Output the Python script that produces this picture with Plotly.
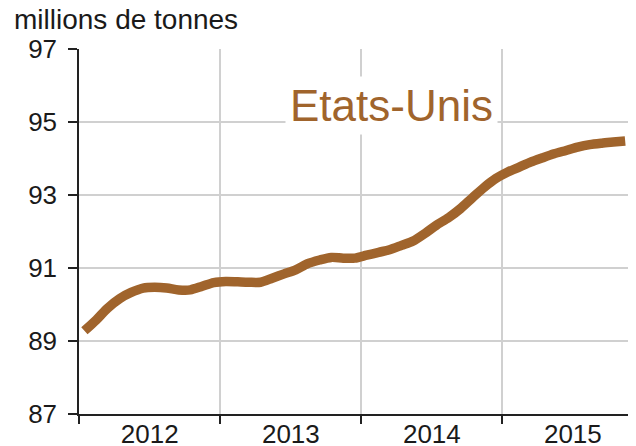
import plotly.graph_objects as go
import pandas as pd

# Monthly data, Jan 2012 - Nov 2015 (millions de tonnes)
values = [
    89.28, 89.58, 89.90, 90.16, 90.33, 90.45, 90.47, 90.45, 90.40, 90.40, 90.50, 90.60,
    90.63, 90.62, 90.61, 90.61, 90.72, 90.84, 90.95, 91.12, 91.22, 91.29, 91.27, 91.27,
    91.35, 91.43, 91.50, 91.62, 91.74, 91.95, 92.18, 92.38, 92.63, 92.92, 93.21, 93.45,
    93.63, 93.77, 93.90, 94.02, 94.13, 94.22, 94.31, 94.38, 94.42, 94.45, 94.48,
]
y_ticks = [87, 89, 91, 93, 95, 97]
series_name = "Etats-Unis"
unit_label = "millions de tonnes"

months = pd.date_range("2012-01-01", periods=len(values), freq="MS") + pd.Timedelta(days=14)

LINE = "#A0642C"
FONT = "Liberation Sans, Arial, sans-serif"

fig = go.Figure()
fig.add_trace(go.Scatter(
    x=months, y=values, mode="lines",
    line=dict(color=LINE, width=9.5, shape="spline", smoothing=0.8),
    hoverinfo="skip", showlegend=False,
))

# page body has an 8px default margin: compensate so the plot area sits at
# x 79..636, y 49..414 in the window
fig.update_layout(
    width=636, height=446,
    margin=dict(l=71, r=8, t=41, b=40, autoexpand=False),
    paper_bgcolor="white", plot_bgcolor="white",
    font=dict(family=FONT, color="#1a1a1a", size=25),
    showlegend=False,
)
fig.update_xaxes(
    type="date",
    range=["2012-01-01", "2015-12-13"],
    dtick="M12", tick0="2012-01-01", tickformat="%Y",
    ticklabelmode="period",
    ticks="outside", ticklen=8, tickwidth=1.5, tickcolor="#222",
    showline=True, linecolor="#222", linewidth=1.5,
    showgrid=True, gridcolor="#d0d0d0", gridwidth=1.5,
    tickfont=dict(size=26, family=FONT, color="#1a1a1a"),
    ticklabelstandoff=-12,
    automargin=False,
    zeroline=False, fixedrange=True,
)
fig.update_yaxes(
    range=[87, 97], tickvals=y_ticks,
    ticks="outside", ticklen=9, tickwidth=1.5, tickcolor="#222",
    showline=True, linecolor="#222", linewidth=1.5,
    showgrid=True, gridcolor="#d0d0d0", gridwidth=1.5,
    tickfont=dict(size=26, family=FONT, color="#1a1a1a"),
    ticklabelstandoff=6,
    automargin=False,
    zeroline=False, fixedrange=True,
)

fig.add_annotation(
    text=unit_label, xref="paper", yref="paper",
    x=(12 - 79) / 557, y=1 + (49 - 19) / 365,
    xanchor="left", yanchor="middle", showarrow=False,
    font=dict(size=28, family=FONT, color="#1a1a1a"),
)
fig.add_annotation(
    text=series_name, xref="paper", yref="paper",
    x=(391 - 79) / 557, y=1 - (105 - 49) / 365,
    xanchor="center", yanchor="middle", showarrow=False,
    font=dict(size=44, family=FONT, color=LINE),
    bgcolor="white", borderpad=4,
)

fig.write_html("out.html")
